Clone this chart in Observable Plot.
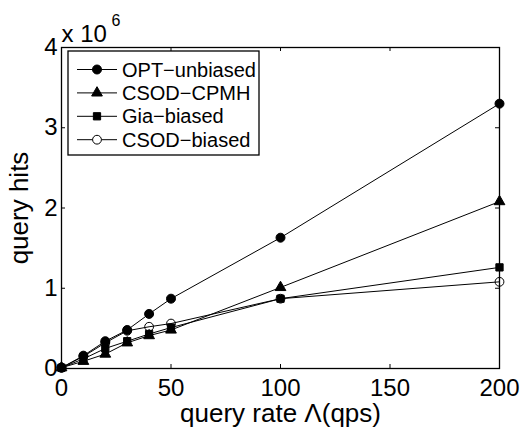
<!DOCTYPE html>
<html>
<head>
<meta charset="utf-8">
<script src="https://cdn.jsdelivr.net/npm/d3@7"></script>
<script src="https://cdn.jsdelivr.net/npm/@observablehq/plot@0.6"></script>
<style>
  html, body { margin: 0; padding: 0; background: #fff; }
  #wrap { position: relative; width: 525px; height: 435px; font-family: "Liberation Sans", Arial, sans-serif; }
  #legend { position: absolute; left: 67px; top: 50px; }
</style>
</head>
<body>
<div id="wrap"></div>
<script>
// ---- data (query hits in units of 10^6) ----
const rates = [0, 10, 20, 30, 40, 50, 100, 200];
const optUnbiased = [0.01, 0.16, 0.34, 0.48, 0.68, 0.87, 1.63, 3.30];
const csodCpmh   = [0.01, 0.09, 0.18, 0.32, 0.41, 0.48, 1.01, 2.08];
const giaBiased  = [0.01, 0.12, 0.25, 0.34, 0.43, 0.51, 0.87, 1.26];
const csodBiased = [0.01, 0.15, 0.32, 0.47, 0.52, 0.56, 0.87, 1.08];
const seriesNames = ["OPT−unbiased", "CSOD−CPMH", "Gia−biased", "CSOD−biased"];
const xTicks = [0, 50, 100, 150, 200];
const yTicks = [0, 1, 2, 3, 4];
const xLabel = "query rate Λ(qps)";
const yLabel = "query hits";

const valuesBySeries = [optUnbiased, csodCpmh, giaBiased, csodBiased];
const styles = [
  {symbol: "circle", fill: "black", r: 4.5},
  {symbol: "triangle", fill: "black", r: 4.0},
  {symbol: "square", fill: "black", r: 4.1},
  {symbol: "circle", fill: "none", r: 4.4}
];
const rows = [];
valuesBySeries.forEach((vals, i) => vals.forEach((v, j) => rows.push({series: seriesNames[i], rate: rates[j], hits: v})));

const FW = 438, FH = 321; // frame size in px
const marks = [];
seriesNames.forEach((name, i) => {
  const data = rows.filter(d => d.series === name);
  marks.push(Plot.line(data, {x: "rate", y: "hits", stroke: "black", strokeWidth: 1}));
  marks.push(Plot.dot(data, {x: "rate", y: "hits", symbol: () => styles[i].symbol, r: styles[i].r,
    fill: styles[i].fill, stroke: "black", strokeWidth: 1}));
});

const chart = Plot.plot({
  width: 525, height: 435,
  marginLeft: 61, marginRight: 26, marginTop: 47, marginBottom: 67,
  style: {fontFamily: '"Liberation Sans", Arial, sans-serif', color: "black", background: "white"},
  symbol: {type: "identity"},
  x: {domain: [0, 200]},
  y: {domain: [0, 4]},
  marks: [
    Plot.axisX(xTicks, {tickSize: 0, tickPadding: 10, fontSize: 24, label: null, tickFormat: d => String(d)}),
    Plot.axisY(yTicks, {tickSize: 0, tickPadding: 4, fontSize: 24, label: null, tickFormat: d => String(d)}),
    Plot.tickX(xTicks, {x: d => d, insetTop: FH - 4, stroke: "black"}),
    Plot.tickX(xTicks, {x: d => d, insetBottom: FH - 4, stroke: "black"}),
    Plot.tickY(yTicks, {y: d => d, insetRight: FW - 4, stroke: "black"}),
    Plot.tickY(yTicks, {y: d => d, insetLeft: FW - 4, stroke: "black"}),
    ...marks,
    Plot.frame({stroke: "black", strokeWidth: 1.3}),
    Plot.text([xLabel], {text: d => d, frameAnchor: "bottom", textAnchor: "middle", dy: 45, fontSize: 26, lineAnchor: "middle"}),
    Plot.text([yLabel], {text: d => d, frameAnchor: "left", textAnchor: "middle", dx: -42, rotate: -90, fontSize: 26, lineAnchor: "middle"}),
    Plot.text(["x 10"], {text: d => d, frameAnchor: "top-left", textAnchor: "start", dy: -13, fontSize: 24, lineAnchor: "middle"}),
    Plot.text(["6"], {text: d => d, frameAnchor: "top-left", textAnchor: "start", dx: 50, dy: -27, fontSize: 16, lineAnchor: "middle"})
  ]
});
const wrap = document.getElementById("wrap");
wrap.appendChild(chart);

// ---- legend (inside the axes, upper left) ----
const ns = "http://www.w3.org/2000/svg";
const lg = document.createElementNS(ns, "svg");
lg.setAttribute("id", "legend");
lg.setAttribute("width", 194);
lg.setAttribute("height", 107);
const box = document.createElementNS(ns, "rect");
box.setAttribute("x", 1); box.setAttribute("y", 1);
box.setAttribute("width", 191); box.setAttribute("height", 104);
box.setAttribute("fill", "white"); box.setAttribute("stroke", "black"); box.setAttribute("stroke-width", 1.3);
lg.appendChild(box);
seriesNames.forEach((name, i) => {
  const cy = 19.5 + i * 23.4;
  const ln = document.createElementNS(ns, "line");
  ln.setAttribute("x1", 10); ln.setAttribute("x2", 50);
  ln.setAttribute("y1", cy); ln.setAttribute("y2", cy);
  ln.setAttribute("stroke", "black"); ln.setAttribute("stroke-width", 1);
  lg.appendChild(ln);
  const sym = {circle: d3.symbolCircle, triangle: d3.symbolTriangle, square: d3.symbolSquare}[styles[i].symbol];
  const p = document.createElementNS(ns, "path");
  p.setAttribute("d", d3.symbol(sym, Math.PI * styles[i].r * styles[i].r)());
  p.setAttribute("transform", `translate(30,${cy})`);
  p.setAttribute("fill", styles[i].fill === "none" ? "white" : "black");
  p.setAttribute("stroke", "black");
  lg.appendChild(p);
  const t = document.createElementNS(ns, "text");
  t.setAttribute("x", 55); t.setAttribute("y", cy + 7);
  t.setAttribute("font-size", 20);
  t.setAttribute("font-family", '"Liberation Sans", Arial, sans-serif');
  t.textContent = name;
  lg.appendChild(t);
});
wrap.appendChild(lg);
</script>
</body>
</html>
